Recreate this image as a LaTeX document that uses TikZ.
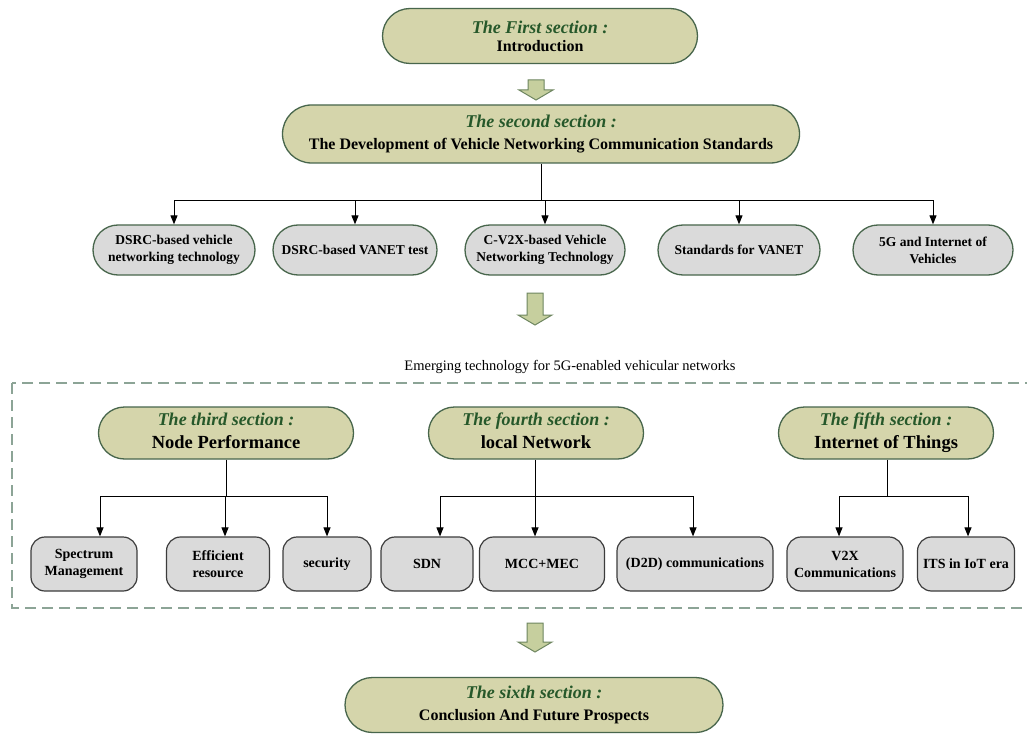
\documentclass[tikz,border=0pt]{standalone}
\usepackage{fontspec}
\setmainfont{Liberation Serif}
\usetikzlibrary{shapes.misc,arrows.meta,positioning,calc}
\definecolor{secfill}{RGB}{213,213,171}
\definecolor{secline}{RGB}{72,102,76}
\definecolor{subfill}{RGB}{218,218,218}
\definecolor{leafline}{RGB}{60,60,60}
\definecolor{hdgreen}{RGB}{38,88,42}
\definecolor{dashcol}{RGB}{140,164,150}
\definecolor{fatfill}{RGB}{198,207,158}
\definecolor{fatline}{RGB}{110,134,96}
\newcommand\hdfont{\fontsize{18}{21}\selectfont\bfseries\itshape\color{hdgreen}}
\newcommand\bdfont{\fontsize{16}{19}\selectfont\bfseries\color{black}}
\newcommand\bdbig{\fontsize{18.5}{22}\selectfont\bfseries\color{black}}
\tikzset{>=latex}
\begin{document}
\begin{tikzpicture}[x=1pt,y=-1pt,
  secbox/.style={rounded rectangle, draw=secline, fill=secfill, line width=1.3pt, align=center, inner sep=0pt},
  subbox/.style={rounded rectangle, draw=secline, fill=subfill, line width=1.3pt, align=center, inner sep=0pt, minimum height=50pt, font=\fontsize{13.5}{17}\selectfont\bfseries},
  leafbox/.style={rectangle, rounded corners=14pt, draw=leafline, fill=subfill, line width=1.2pt, align=center, inner sep=0pt, minimum height=54pt, font=\fontsize{14}{17}\selectfont\bfseries},
  link/.style={-{Triangle[length=9pt,width=7pt]}, line width=1pt},
  bus/.style={line width=1pt},
  fatdown/.pic={\draw[fatline, fill=fatfill, line width=1pt] (-8,0) -- (8,0) -- (8,#1-10) -- (17,#1-10) -- (0,#1) -- (-17,#1-10) -- (-8,#1-10) -- cycle;}]
\clip (0,0) rectangle (1027,735);
\fill[white] (0,0) rectangle (1027,735);

\node[secbox, minimum width=315pt, minimum height=55pt] (intro) at (540,36) {\hdfont The First section :\\[6pt]\bdfont Introduction};
\node[secbox, minimum width=517pt, minimum height=58pt] (devel) at (541,134) {\hdfont\strut The second section :\\[2pt]\bdfont\strut The Development of Vehicle Networking Communication Standards};
\pic at (536,80) {fatdown=20};

\node[subbox, minimum width=162pt] (dsrcv) at (174,250) {DSRC-based vehicle\\networking technology};
\node[subbox, minimum width=164pt] (dsrct) at (355,250) {DSRC-based VANET test};
\node[subbox, minimum width=160pt] (cvtx) at (545,250) {C-V2X-based Vehicle\\Networking Technology};
\node[subbox, minimum width=162pt] (stdv) at (739,250) {Standards for VANET};
\node[subbox, minimum width=160pt] (fivg) at (933,250) {5G and Internet of\\Vehicles};
\coordinate (bus2) at ($(devel.south)+(0,37)$);
\draw[bus] (devel.south) -- (bus2);
\foreach \n in {dsrcv,dsrct,cvtx,stdv,fivg}
  \draw[link] (bus2) -| (\n.north);

\pic at (535,293) {fatdown=32};
\node[font=\fontsize{14.5}{17}\selectfont] (emrg) at (570,367) {Emerging technology for 5G-enabled vehicular networks};
\draw[dashcol, line width=1.8pt, dash pattern=on 11pt off 6pt] (12,383) rectangle (1030,608);

\node[secbox, minimum width=255pt, minimum height=52pt] (sec3) at (226,433) {\hdfont\strut The third section :\\\bdbig\strut Node Performance};
\node[secbox, minimum width=215pt, minimum height=52pt] (sec4) at (536,433) {\hdfont\strut The fourth section :\\\bdbig\strut local Network};
\node[secbox, minimum width=215pt, minimum height=52pt] (sec5) at (886,433) {\hdfont\strut The fifth section :\\\bdbig\strut Internet of Things};

\node[leafbox, minimum width=106pt] (spec) at (84,564) {Spectrum\\Management};
\node[leafbox, minimum width=103pt] (effi) at (218,564) {Efficient\\resource};
\node[leafbox, minimum width=88pt] (secu) at (327,564) {security};
\node[leafbox, minimum width=92pt] (sdn) at (427,564) {SDN};
\node[leafbox, minimum width=125pt] (mcc) at (542,564) {MCC+MEC};
\node[leafbox, minimum width=156pt] (dtod) at (695,564) {(D2D) communications};
\node[leafbox, minimum width=116pt] (vtx) at (845,564) {V2X\\Communications};
\node[leafbox, minimum width=97pt] (its) at (966,564) {ITS in IoT era};

\coordinate (bus3) at ($(sec3.south)+(0,37)$);
\coordinate (bus4) at ($(sec4.south)+(-1,37)$);
\coordinate (bus5) at ($(sec5.south)+(1,37)$);
\draw[bus] (sec3.south) -- (bus3);
\draw[bus] (sec4.south) ++(-1,0) -- (bus4);
\draw[bus] (sec5.south) ++(1,0) -- (bus5);
\draw[link] (bus3) -| ([xshift=16pt]spec.north);
\draw[link] (bus3) -| ([xshift=7pt]effi.north);
\draw[link] (bus3) -| (secu.north);
\draw[link] (bus4) -| ([xshift=13pt]sdn.north);
\draw[link] (bus4) -| ([xshift=-7pt]mcc.north);
\draw[link] (bus4) -| ([xshift=-2pt]dtod.north);
\draw[link] (bus5) -| ([xshift=-6pt]vtx.north);
\draw[link] (bus5) -| ([xshift=2pt]its.north);

\pic at (535,623) {fatdown=29};
\node[secbox, minimum width=378pt, minimum height=55pt] (sec6) at (534,705) {\hdfont\strut The sixth section :\\[1pt]\bdfont\strut Conclusion And Future Prospects};
\end{tikzpicture}
\end{document}
